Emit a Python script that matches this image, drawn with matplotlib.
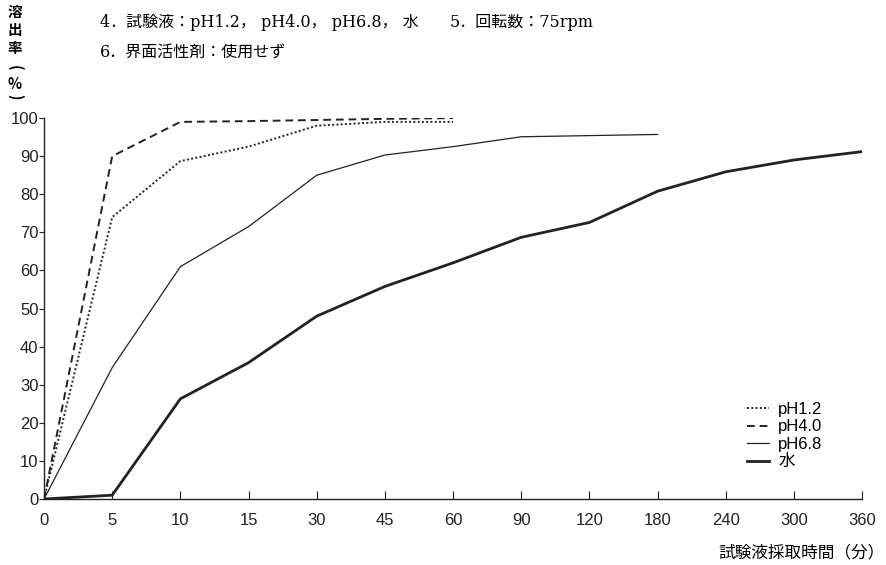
import matplotlib
matplotlib.use("Agg")
import matplotlib.pyplot as plt

plt.rcParams['font.family'] = ['Liberation Sans', 'Noto Sans CJK JP']

# サンプリング時間（分）: 等間隔のカテゴリ軸
times = ["0", "5", "10", "15", "30", "45", "60", "90", "120", "180", "240", "300", "360"]

ph12 = [0, 74, 88.7, 92.5, 98, 99, 99]
ph40 = [0, 90, 99, 99.2, 99.5, 99.8, 100]
ph68 = [0, 34.5, 61, 71.5, 85, 90.3, 92.5, 95.1, 95.4, 95.7]
water = [0, 1, 26.3, 35.8, 48, 55.8, 62, 68.7, 72.6, 80.8, 85.9, 89, 91.2]

fig = plt.figure(figsize=(8.86, 5.65), dpi=100)
ax = fig.add_axes([0.0497, 0.1168, 0.9233, 0.6742])

ax.plot(range(len(ph12)), ph12, color="#222222", lw=1.4, ls=(0, (1, 1.2)), label="pH1.2")
ax.plot(range(len(ph40)), ph40, color="#222222", lw=1.4, ls=(0, (4, 2.5)), label="pH4.0")
ax.plot(range(len(ph68)), ph68, color="#222222", lw=0.9, label="pH6.8")
ax.plot(range(len(water)), water, color="#222222", lw=2.0, label="水")

ax.set_xlim(0, len(times) - 1)
ax.set_ylim(0, 100)
ax.set_xticks(range(len(times)))
ax.set_xticklabels(times)
ax.set_yticks(range(0, 101, 10))
ax.spines["top"].set_visible(False)
ax.spines["right"].set_visible(False)
for s in ("left", "bottom"):
    ax.spines[s].set_linewidth(1.0)
    ax.spines[s].set_color("#222222")
ax.tick_params(axis="x", direction="in", length=6, labelsize=12, pad=10, colors="#222222")
ax.tick_params(axis="y", direction="out", length=3.5, labelsize=12, pad=0.5, colors="#222222")

leg = ax.legend(loc="upper left", bbox_to_anchor=(0.859, 0.255), frameon=False,
                fontsize=12, handlelength=1.35, handletextpad=0.55, labelspacing=0.15,
                borderaxespad=0, borderpad=0)

# 縦書きの軸ラベル「溶出率（%）」: 括弧は横倒しにする
ylab_chars = ["溶", "出", "率", "(", "%", ")"]
ylab_pos = [12, 30, 48, 68, 84, 97]
for ch, py in zip(ylab_chars, ylab_pos):
    rot = -90 if ch in "()" else 0
    fig.text(0.017, 1 - py / 565, ch, ha="center", va="center", fontsize=10.5,
             fontweight="bold", rotation=rot, family=['Noto Sans CJK JP'])

fig.text(0.999, 0.021, "試験液採取時間（分）", ha="right", va="center", fontsize=12,
         family=['Noto Sans CJK JP'])

# 試験条件
serif = ['DejaVu Serif', 'Noto Sans CJK JP']
fig.text(0.113, 0.961, "4．試験液：pH1.2， pH4.0， pH6.8， 水", ha="left", va="center",
         fontsize=11.5, family=serif)
fig.text(0.507, 0.961, "5．回転数：75rpm", ha="left", va="center", fontsize=11.5, family=serif)
fig.text(0.113, 0.906, "6．界面活性剤：使用せず", ha="left", va="center", fontsize=11.5, family=serif)

fig.savefig("out.png", dpi=100)
